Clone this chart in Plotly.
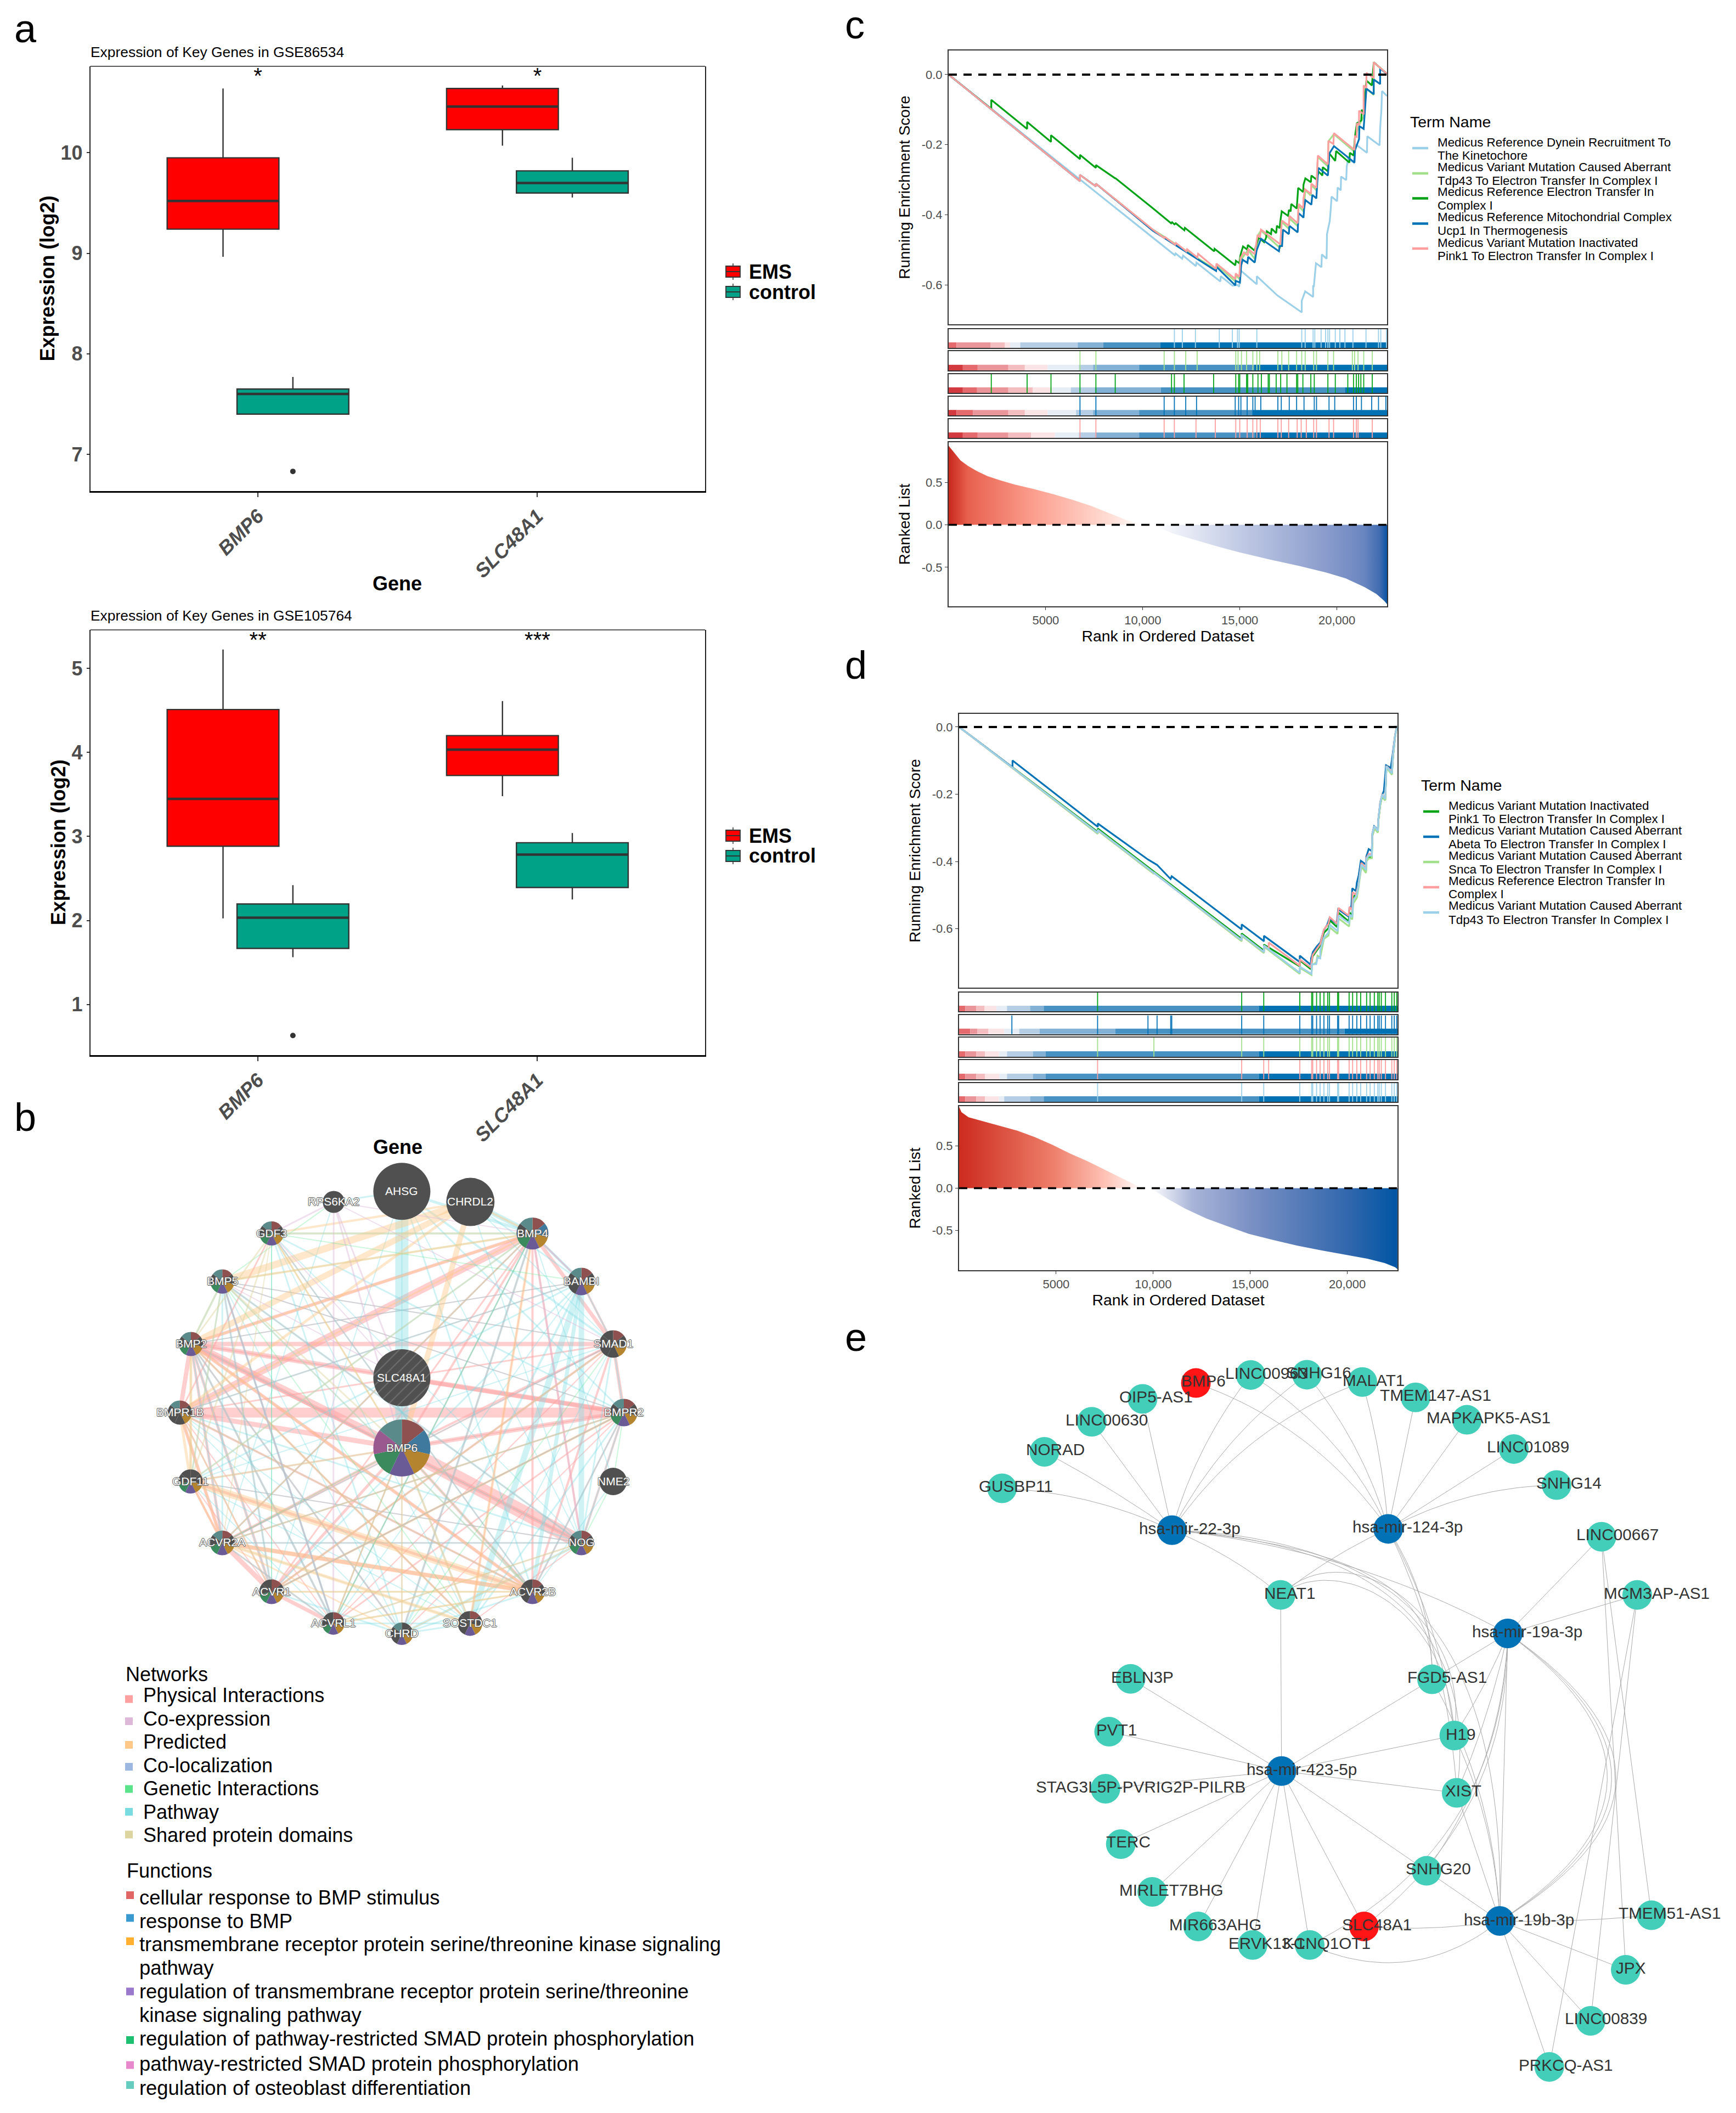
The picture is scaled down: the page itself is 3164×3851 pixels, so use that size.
import plotly.graph_objects as go

W, H = 3164, 3851
FONT = "Liberation Sans"

# ---------------- panel a data ----------------
GENES = ["BMP6", "SLC48A1"]
A1_EMS = dict(low=[8.965, 10.07], q1=[9.24, 10.23], med=[9.52, 10.46], q3=[9.95, 10.64], high=[10.64, 10.67])
A1_CTL = dict(low=[7.40, 9.555], q1=[7.40, 9.60], med=[7.60, 9.70], q3=[7.65, 9.82], high=[7.77, 9.95])
A1_OUTLIER = [6.83]
A1_STARS = ["*", "*"]
A2_EMS = dict(low=[2.025, 3.48], q1=[2.883, 3.725], med=[3.446, 4.033], q3=[4.51, 4.20], high=[5.225, 4.61])
A2_CTL = dict(low=[1.5625, 2.25], q1=[1.667, 2.392], med=[2.033, 2.783], q3=[2.196, 2.925], high=[2.42, 3.04])
A2_OUTLIER = [0.63]
A2_STARS = ["**", "***"]

# ---------------- panel c data ----------------
C_NAMES = [["Medicus Reference Dynein Recruitment To", "The Kinetochore"],
           ["Medicus Variant Mutation Caused Aberrant", "Tdp43 To Electron Transfer In Complex I"],
           ["Medicus Reference Electron Transfer In", "Complex I"],
           ["Medicus Reference Mitochondrial Complex", "Ucp1 In Thermogenesis"],
           ["Medicus Variant Mutation Inactivated", "Pink1 To Electron Transfer In Complex I"]]
LBLUE, LGREEN, GREEN, BLUE, PINK = "#9BD0E8", "#A3E08B", "#00A316", "#0072B5", "#FF9E9E"

C_LB_X = [1, 11628, 11651, 11689, 12029, 12076, 12737, 12765, 13993, 14021, 14626, 14879, 14967, 15051, 15875, 15875, 16939, 18189, 18189, 18365, 18775, 18775, 18809, 18922, 19205, 19224, 19470, 19489, 19631, 19678, 19725, 20008, 20037, 20197, 20216, 20480, 20508, 20575, 20877, 20934, 21047, 21547, 21566, 22199, 22228, 22293, 22322, 22583]
C_LB_Y = [0, -0.514, -0.515, -0.510, -0.525, -0.516, -0.546, -0.536, -0.590, -0.575, -0.602, -0.60, -0.605, -0.559, -0.598, -0.575, -0.630, -0.678, -0.645, -0.618, -0.634, -0.601, -0.606, -0.538, -0.549, -0.513, -0.525, -0.455, -0.418, -0.387, -0.348, -0.361, -0.322, -0.330, -0.291, -0.301, -0.262, -0.241, -0.251, -0.199, -0.202, -0.223, -0.176, -0.202, -0.152, -0.100, -0.047, -0.061]

C_LG_X = [1, 6766, 6766, 7586, 7586, 10518, 13776, 13795, 14767, 14786, 14975, 15032, 15428, 15759, 15919, 16089, 17081, 17157, 17525, 17553, 17978, 18025, 18280, 18375, 18658, 18686, 18941, 19017, 19536, 19564, 19848, 20905, 20934, 21141, 21377, 21519, 21897, 21897, 22583]
C_LG_Y = [0, -0.304, -0.286, -0.319, -0.311, -0.442, -0.557, -0.542, -0.590, -0.572, -0.583, -0.530, -0.500, -0.525, -0.460, -0.445, -0.495, -0.420, -0.440, -0.410, -0.432, -0.375, -0.390, -0.330, -0.345, -0.315, -0.330, -0.235, -0.262, -0.190, -0.170, -0.220, -0.180, -0.145, -0.120, -0.040, -0.058, 0.035, 0.002]

C_GR_X = [1, 2197, 2197, 4042, 4042, 5272, 5272, 6766, 6766, 7586, 7586, 8582, 8582, 10518, 11462, 11510, 11632, 11698, 12142, 12171, 13681, 13700, 14767, 14796, 14975, 15032, 15098, 15164, 15381, 15410, 15759, 15976, 16250, 16354, 16391, 16609, 16637, 16873, 16911, 17052, 17081, 17157, 17487, 17525, 17619, 17647, 17931, 17978, 18006, 18261, 18280, 18375, 18658, 18686, 18941, 19064, 19253, 19272, 19536, 19612, 19914, 19961, 20641, 20669, 20858, 20934, 21028, 21255, 21283, 21377, 21472, 21519, 21803, 21897, 22583]
C_GR_Y = [0, -0.098, -0.072, -0.155, -0.135, -0.192, -0.173, -0.241, -0.229, -0.266, -0.258, -0.296, -0.295, -0.381, -0.424, -0.421, -0.427, -0.424, -0.444, -0.437, -0.504, -0.497, -0.544, -0.531, -0.538, -0.515, -0.504, -0.490, -0.499, -0.486, -0.502, -0.465, -0.478, -0.465, -0.447, -0.455, -0.439, -0.452, -0.431, -0.438, -0.421, -0.390, -0.403, -0.386, -0.390, -0.369, -0.382, -0.343, -0.323, -0.335, -0.314, -0.296, -0.307, -0.288, -0.299, -0.277, -0.288, -0.264, -0.276, -0.225, -0.246, -0.218, -0.251, -0.223, -0.231, -0.176, -0.139, -0.131, -0.100, -0.113, -0.048, -0.017, -0.031, 0.035, 0.002]

C_BL_X = [1, 6766, 6766, 7586, 7586, 10518, 13776, 13795, 14767, 14786, 15004, 15070, 15145, 15391, 15428, 15768, 15862, 15976, 16089, 17015, 17052, 17176, 17223, 17525, 17553, 17978, 18025, 18280, 18309, 18375, 18686, 18733, 18941, 18988, 19045, 19536, 19612, 19848, 20905, 20934, 21141, 21159, 21377, 21472, 21519, 21897, 21897, 22228, 22228, 22583]
C_BL_Y = [0, -0.304, -0.286, -0.319, -0.311, -0.445, -0.560, -0.548, -0.601, -0.588, -0.593, -0.544, -0.528, -0.537, -0.520, -0.536, -0.502, -0.486, -0.468, -0.504, -0.489, -0.489, -0.442, -0.455, -0.431, -0.450, -0.395, -0.408, -0.384, -0.358, -0.371, -0.343, -0.353, -0.309, -0.266, -0.288, -0.225, -0.204, -0.251, -0.215, -0.184, -0.147, -0.155, -0.079, -0.040, -0.056, -0.014, -0.027, 0.017, 0.002]

C_PK_X = [1, 6766, 6766, 7586, 7586, 10518, 11103, 11141, 11670, 11708, 12246, 12284, 12813, 12850, 13776, 13795, 14767, 14786, 14975, 15032, 15211, 15418, 15428, 15759, 15919, 16033, 16089, 17081, 17157, 17525, 17553, 17978, 18025, 18261, 18280, 18356, 18658, 18686, 18941, 19017, 19536, 19564, 19819, 19848, 20905, 20934, 21019, 21028, 21141, 21141, 21377, 21377, 21519, 21519, 21897, 21897, 22583]
C_PK_Y = [0, -0.304, -0.286, -0.319, -0.311, -0.442, -0.466, -0.463, -0.485, -0.480, -0.504, -0.498, -0.522, -0.511, -0.554, -0.539, -0.583, -0.567, -0.577, -0.523, -0.507, -0.516, -0.497, -0.512, -0.457, -0.465, -0.442, -0.484, -0.416, -0.431, -0.403, -0.424, -0.369, -0.381, -0.353, -0.327, -0.340, -0.311, -0.323, -0.231, -0.256, -0.189, -0.198, -0.167, -0.215, -0.176, -0.178, -0.139, -0.144, -0.103, -0.113, -0.031, -0.038, 0.005, -0.010, 0.035, 0.002]

C_HITS = [
    [11628, 12038, 12712, 13942, 14616, 14879, 14967, 15875, 18189, 18365, 18775, 18863, 19185, 19419, 19536, 19624, 19917, 20152, 20415, 20825, 21499, 22143, 22260, 22553],
    [6766, 7586, 11101, 11628, 12214, 12800, 14791, 14908, 15084, 15348, 15670, 15875, 16021, 16959, 17164, 17515, 17925, 18189, 18365, 18804, 18950, 19536, 19829, 20796, 20913, 21089, 21382, 21821],
    [2197, 4042, 5272, 6766, 7586, 8582, 11482, 11628, 12126, 13649, 14791, 14938, 14996, 15348, 15407, 15670, 15934, 16110, 16461, 16520, 16871, 17105, 17427, 17925, 17984, 18248, 18658, 18834, 19536, 19917, 20562, 20855, 21001, 21118, 21235, 21382, 21821],
    [6766, 7586, 11101, 11628, 12214, 12770, 14762, 14938, 15055, 15377, 15670, 15787, 16080, 16959, 17135, 17545, 17925, 18306, 18834, 18950, 19595, 19888, 20855, 21001, 21265, 21792, 22143, 22524],
    [6766, 7586, 11101, 11628, 12741, 13737, 14791, 14996, 15377, 15670, 15875, 16051, 16959, 17135, 17515, 17955, 18160, 18424, 18804, 18950, 19595, 19829, 20855, 21001, 21089, 21821],
]
BAND10 = ["#d23a3f", "#e46a6d", "#ea9599", "#f4bdc0", "#fae4e5", "#e6edf4", "#b5cee6", "#82b1d5", "#4891c3", "#0071b2"]
C_BANDS = [
    [1, 410, 2167, 2900, 3163, 3690, 6649, 7967, 10896, 22583],
    [1, 732, 1494, 3075, 3925, 5096, 6707, 7440, 9812, 15729, 22583],
    [1, 732, 1465, 3075, 4335, 5331, 6297, 7527, 10925, 20415, 22583],
    [1, 410, 1259, 3075, 3925, 5096, 6561, 7440, 9812, 15670, 22583],
    [1, 732, 1494, 3075, 4247, 5477, 6707, 7557, 9812, 15788, 22583],
]
C_RANK_POS_X = [1, 317, 615, 1011, 1507, 2003, 2598, 3391, 4382, 5374, 6365, 7357, 8348, 9142, 9935]
C_RANK_POS_Y = [0.931, 0.839, 0.759, 0.693, 0.627, 0.574, 0.529, 0.476, 0.423, 0.362, 0.296, 0.222, 0.132, 0.058, 0]
C_RANK_NEG_X = [10530, 11521, 12513, 14000, 14992, 16479, 18065, 19453, 20445, 21437, 22032, 22428, 22583]
C_RANK_NEG_Y = [0, -0.10, -0.167, -0.265, -0.325, -0.405, -0.484, -0.563, -0.63, -0.735, -0.815, -0.894, -0.934]

# ---------------- panel d data ----------------
D_NAMES = [["Medicus Variant Mutation Inactivated", "Pink1 To Electron Transfer In Complex I"],
           ["Medicus Variant Mutation Caused Aberrant", "Abeta To Electron Transfer In Complex I"],
           ["Medicus Variant Mutation Caused Aberrant", "Snca To Electron Transfer In Complex I"],
           ["Medicus Reference Electron Transfer In", "Complex I"],
           ["Medicus Variant Mutation Caused Aberrant", "Tdp43 To Electron Transfer In Complex I"]]
D_COLORS = [GREEN, BLUE, LGREEN, PINK, LBLUE]

D_BL_X = [1, 2753, 2753, 7147, 7147, 9731, 10199, 10896, 10954, 12768, 14557, 14557, 15706, 15706, 17551, 17551, 18116, 18135, 18229, 18418, 18606, 18794, 18964, 19077, 19453, 19529, 20066, 20112, 20207, 20254, 20442, 20489, 20583, 20696, 20960, 20979, 21101, 21261, 21290, 21384, 21572, 21600, 21694, 21789, 21883, 21996, 22231, 22297, 22354, 22420, 22467, 22560]
D_BL_Y = [0, -0.120, -0.0996, -0.297, -0.287, -0.394, -0.410, -0.452, -0.444, -0.523, -0.602, -0.587, -0.637, -0.621, -0.699, -0.680, -0.707, -0.688, -0.669, -0.653, -0.641, -0.604, -0.588, -0.569, -0.585, -0.542, -0.564, -0.537, -0.534, -0.480, -0.488, -0.463, -0.442, -0.398, -0.409, -0.385, -0.363, -0.369, -0.317, -0.295, -0.304, -0.274, -0.225, -0.203, -0.190, -0.114, -0.122, -0.098, -0.073, -0.049, -0.022, 0.003]

D_LB_X = [1, 7147, 7147, 12768, 14557, 14557, 15706, 15706, 17551, 17551, 18154, 18182, 18399, 18465, 18606, 18606, 18794, 19030, 19096, 19500, 19547, 20094, 20131, 20254, 20301, 20489, 20564, 20724, 20960, 20979, 21101, 21261, 21290, 21402, 21572, 21600, 21694, 21789, 21949, 22015, 22297, 22354, 22467, 22560]
D_LB_Y = [0, -0.315, -0.306, -0.554, -0.634, -0.618, -0.669, -0.650, -0.731, -0.713, -0.734, -0.705, -0.705, -0.686, -0.688, -0.664, -0.626, -0.612, -0.588, -0.607, -0.561, -0.583, -0.558, -0.565, -0.515, -0.499, -0.474, -0.409, -0.425, -0.393, -0.382, -0.382, -0.317, -0.295, -0.309, -0.274, -0.228, -0.201, -0.214, -0.117, -0.138, -0.084, -0.024, 0.003]

D_LG_X = [1, 7147, 7147, 10037, 10037, 12768, 14557, 14557, 15706, 15706, 17551, 17551, 18154, 18182, 18399, 18465, 18606, 18794, 19030, 19096, 19500, 19547, 20094, 20131, 20254, 20301, 20489, 20564, 20724, 20960, 20979, 21101, 21261, 21290, 21402, 21572, 21600, 21694, 21789, 21949, 22015, 22297, 22354, 22467, 22560]
D_LG_Y = [0, -0.318, -0.308, -0.437, -0.432, -0.557, -0.637, -0.621, -0.672, -0.653, -0.734, -0.716, -0.737, -0.708, -0.700, -0.680, -0.685, -0.630, -0.620, -0.596, -0.615, -0.569, -0.593, -0.566, -0.572, -0.525, -0.508, -0.482, -0.415, -0.434, -0.400, -0.391, -0.390, -0.325, -0.302, -0.314, -0.279, -0.232, -0.205, -0.218, -0.120, -0.142, -0.087, -0.026, 0.003]

D_PK_X = [1, 7147, 7147, 12768, 14557, 14557, 15706, 15706, 15950, 15950, 17551, 17551, 18116, 18211, 18418, 18606, 18794, 19030, 19096, 19473, 19547, 20066, 20112, 20254, 20273, 20442, 20564, 20724, 20960, 20979, 21101, 21261, 21290, 21402, 21572, 21600, 21694, 21789, 21949, 22015, 22297, 22354, 22467, 22560]
D_PK_Y = [0, -0.315, -0.306, -0.554, -0.634, -0.618, -0.669, -0.650, -0.660, -0.641, -0.710, -0.691, -0.715, -0.678, -0.660, -0.645, -0.602, -0.585, -0.566, -0.585, -0.538, -0.561, -0.535, -0.545, -0.491, -0.499, -0.472, -0.404, -0.420, -0.390, -0.378, -0.378, -0.317, -0.295, -0.307, -0.274, -0.226, -0.200, -0.212, -0.116, -0.134, -0.082, -0.023, 0.003]

D_GR_X = [1, 7147, 7147, 12768, 14557, 14557, 15706, 15706, 17551, 17551, 18116, 18211, 18418, 18606, 18794, 19030, 19096, 19473, 19547, 20066, 20112, 20254, 20301, 20489, 20583, 20724, 20960, 20979, 21101, 21261, 21290, 21402, 21572, 21600, 21694, 21789, 21949, 22015, 22297, 22354, 22467, 22560]
D_GR_Y = [0, -0.312, -0.302, -0.550, -0.630, -0.614, -0.665, -0.647, -0.712, -0.694, -0.720, -0.682, -0.665, -0.650, -0.612, -0.598, -0.575, -0.595, -0.552, -0.578, -0.552, -0.558, -0.508, -0.492, -0.465, -0.412, -0.430, -0.396, -0.388, -0.388, -0.323, -0.300, -0.313, -0.278, -0.232, -0.206, -0.218, -0.119, -0.140, -0.087, -0.025, 0.003]

D_COMMON = [7136, 14560, 15695, 17551, 18164, 18218, 18416, 18597, 18795, 18993, 19083, 19498, 19552, 20092, 20273, 20489, 20687, 20993, 21174, 21390, 21570, 21642, 21750, 21966, 22291, 22417, 22543]
D_EXTRA = [[], [2721, 9731, 10199, 10902, 10956], [10037], [15948], []]
D_BANDS = [
    [1, 324, 883, 1315, 1928, 2469, 3658, 4361, 15443, 22583],
    [1, 577, 937, 1514, 2325, 3099, 4145, 8055, 19858, 22583],
    [1, 324, 883, 1333, 2054, 2469, 3802, 4451, 15443, 22583],
    [1, 324, 883, 1333, 2072, 2469, 3802, 4451, 15443, 22583],
    [1, 324, 883, 1333, 2054, 2325, 3658, 4361, 15443, 22583],
]
D_RANK_POS_X = [1, 126, 487, 1207, 2108, 3009, 3910, 4811, 5712, 6613, 7514, 8415, 9316, 9496]
D_RANK_POS_Y = [0.964, 0.90, 0.841, 0.797, 0.738, 0.681, 0.604, 0.514, 0.411, 0.321, 0.219, 0.116, 0.013, 0]
D_RANK_NEG_X = [9857, 10758, 11659, 12740, 13821, 14902, 16164, 17425, 18687, 19948, 21029, 21930, 22471, 22579]
D_RANK_NEG_Y = [0, -0.129, -0.244, -0.36, -0.45, -0.54, -0.612, -0.681, -0.738, -0.789, -0.835, -0.887, -0.938, -0.959]

RANK_TICKS = [5000, 10000, 15000, 20000]
RANK_TEXT = ["5000", "10,000", "15,000", "20,000"]

# ---------------- panel b data ----------------
B_NODES = {
    "AHSG": (732.4, 2171.3, 52), "CHRDL2": (857.3, 2190.6, 44), "RPS6KA2": (608.2, 2190.6, 20),
    "BMP4": (970.5, 2248, 29), "GDF3": (495, 2248, 22), "BAMBI": (1059.6, 2335.6, 25),
    "BMP5": (405.2, 2335.6, 22), "SMAD1": (1117.5, 2449.4, 25), "BMP2": (348, 2449.4, 22),
    "BMPR2": (1137, 2574.4, 25), "BMPR1B": (327.8, 2574.4, 22), "NME2": (1117.5, 2700, 25),
    "GDF11": (347.3, 2700, 22), "NOG": (1059.6, 2811.9, 22.5), "ACVR2A": (405.2, 2811.9, 22.5),
    "ACVR2B": (970.5, 2901, 22.5), "ACVR1": (495, 2901, 22.5), "SOSTDC1": (856.7, 2958.8, 22.5),
    "ACVRL1": (607.5, 2958.8, 20.5), "CHRD": (732.4, 2977.5, 20.5), "SLC48A1": (732.4, 2511, 52),
    "BMP6": (732.4, 2639, 52),
}
SLOTS = ["#8F5050", "#3F7A9E", "#B5842E", "#6A5A96", "#3A8A5E", "#9A5A90", "#5A8A8A"]
GRAY = "#505050"
B_MEMBERS = {
    "BMP6": [1, 1, 1, 1, 1, 1, 1], "BMP4": [1, 1, 1, 1, 1, 0, 1], "BAMBI": [1, 0, 1, 1, 0, 0, 1],
    "GDF3": [1, 0, 1, 1, 1, 0, 1], "BMP5": [1, 0, 1, 1, 1, 0, 1], "SMAD1": [1, 0, 1, 0, 0, 0, 0],
    "BMP2": [1, 0, 1, 1, 1, 0, 1], "BMPR2": [1, 0, 1, 1, 1, 0, 1], "BMPR1B": [1, 0, 1, 0, 0, 0, 1],
    "GDF11": [0, 0, 1, 1, 1, 0, 0], "NOG": [1, 0, 1, 1, 1, 0, 1], "ACVR2A": [1, 0, 1, 1, 1, 0, 1],
    "ACVR2B": [1, 0, 1, 1, 0, 0, 0], "ACVR1": [1, 0, 1, 1, 1, 0, 0], "SOSTDC1": [1, 0, 1, 1, 0, 0, 0],
    "ACVRL1": [1, 0, 1, 1, 1, 0, 0], "CHRD": [0, 0, 1, 1, 0, 0, 1],
}
PHYS = "rgba(255,160,160,0.50)"
PATH = "rgba(122,220,228,0.36)"
PRED = "rgba(255,200,136,0.44)"
COEX = "rgba(221,184,216,0.45)"
GENI = "rgba(91,227,140,0.30)"
SHAR = "rgba(221,213,160,0.45)"
COLO = "rgba(157,184,224,0.40)"
B_EDGES = {
    PHYS: [("BMP6 NOG", 26), ("BMPR1B BMPR2", 18), ("BMP2 BMP6", 14), ("BMP4 BMPR1B", 13), ("BMP2 BMPR2", 9),
           ("BMP2 SMAD1", 8), ("BMP2 BMPR1B", 8), ("BMP2 NOG", 7), ("SLC48A1 BMPR2", 7), ("BMPR1B BMP6", 9),
           ("BMP6 BMPR2", 8), ("ACVR2A ACVR2B", 7), ("ACVR2A ACVR1", 9), ("ACVR1 ACVRL1", 7), ("BMP4 SMAD1", 7),
           ("BMP4 BMP2", 6), ("BMP6 ACVR1", 5), ("BMP6 ACVR2A", 5), ("BMP6 ACVR2B", 5), ("BMP6 SMAD1", 4),
           ("BMP2 ACVR2B", 6), ("BMP2 ACVR1", 5), ("BMP2 ACVR2A", 5), ("BMPR1B ACVR2A", 6), ("BMPR1B ACVR2B", 4),
           ("SMAD1 BMPR2", 6), ("SMAD1 ACVR1", 4), ("SMAD1 ACVR2A", 3), ("SMAD1 ACVR2B", 4), ("BMP4 NOG", 4),
           ("BMP4 ACVR2B", 4), ("BMP4 ACVR1", 3), ("BMP4 BMP6", 4), ("BMPR2 ACVR1", 3), ("BMPR2 ACVRL1", 3),
           ("BMPR2 NOG", 4), ("BAMBI SMAD1", 4), ("BAMBI BMP4", 3), ("BMP2 SLC48A1", 3), ("CHRD BMP4", 3),
           ("CHRD BMP2", 3), ("SOSTDC1 BMP2", 3), ("GDF11 ACVR2B", 5), ("GDF11 ACVR2A", 4), ("GDF3 BMPR1B", 3),
           ("BMP2 ACVRL1", 3), ("BMPR1B ACVR1", 3), ("BMPR1B ACVRL1", 2), ("BMP4 ACVR2A", 3), ("BMP4 ACVRL1", 2),
           ("BMP6 ACVRL1", 2), ("BMPR2 ACVR2A", 3), ("BMPR2 ACVR2B", 3), ("SMAD1 ACVRL1", 2), ("SMAD1 BMPR1B", 3),
           ("SMAD1 BMP5", 2), ("BAMBI BMP2", 2), ("BAMBI BMPR1B", 2), ("NOG ACVR2A", 2), ("NOG BMP5", 2),
           ("NOG GDF11", 2), ("CHRD BMPR2", 2), ("SOSTDC1 BMP4", 2), ("SOSTDC1 NOG", 2), ("GDF3 ACVR2B", 2),
           ("BMP5 ACVR1", 2), ("BMP5 BMPR2", 2), ("GDF11 BMPR2", 2), ("GDF11 ACVR1", 2)],
    PATH: [("AHSG BMP6", 24), ("BAMBI NOG", 10), ("SOSTDC1 BAMBI", 11), ("CHRDL2 BMP4", 9), ("ACVR2B BAMBI", 7),
           ("AHSG BMP4", 5), ("AHSG SMAD1", 4), ("AHSG BMPR2", 3), ("CHRD NOG", 5), ("CHRD BAMBI", 4),
           ("CHRD BMP4", 4), ("CHRD ACVR1", 3), ("ACVRL1 BMP5", 4), ("ACVRL1 BMP2", 4), ("ACVRL1 BMP4", 3),
           ("ACVR1 BMP5", 4), ("ACVR1 BAMBI", 3), ("ACVR1 BMP2", 3), ("ACVR2A BMP5", 3), ("ACVR2A BMP4", 3),
           ("BMP5 BMP2", 3), ("BMP5 NOG", 4), ("BMP5 ACVR2B", 3), ("BMP5 GDF11", 3), ("GDF3 ACVR2B", 3),
           ("GDF3 CHRD", 3), ("GDF3 BMP4", 3), ("GDF3 BMPR2", 3), ("BMP2 ACVR2A", 3), ("BMP2 CHRD", 3),
           ("GDF11 BMP4", 3), ("GDF11 BAMBI", 3), ("GDF11 SMAD1", 2), ("BMPR1B BAMBI", 3), ("BMPR1B NOG", 3),
           ("SMAD1 NOG", 3), ("SMAD1 BMPR2", 3), ("BMPR2 SOSTDC1", 3), ("BMPR2 ACVR2B", 3), ("BMPR2 NOG", 3),
           ("SOSTDC1 CHRD", 3), ("ACVR2B CHRD", 3), ("AHSG ACVR2B", 3), ("AHSG RPS6KA2", 3), ("BMP4 BAMBI", 5),
           ("BAMBI SMAD1", 3), ("ACVRL1 SOSTDC1", 3), ("ACVR2A NOG", 3), ("ACVRL1 BMP6", 3), ("SOSTDC1 BMP6", 3),
           ("AHSG NOG", 2), ("AHSG ACVR1", 2), ("AHSG CHRD", 2), ("CHRDL2 NOG", 2), ("CHRDL2 BAMBI", 3),
           ("CHRDL2 SMAD1", 2), ("RPS6KA2 ACVR2A", 2), ("GDF3 NOG", 2), ("GDF3 ACVR1", 2), ("GDF3 SOSTDC1", 2),
           ("BMP5 CHRD", 2), ("BMP5 BMPR2", 2), ("BMP5 SMAD1", 2), ("BMP2 SOSTDC1", 2), ("BMP2 BAMBI", 2),
           ("BMPR1B ACVR2B", 2), ("BMPR1B SOSTDC1", 2), ("BMPR1B CHRD", 2), ("GDF11 NOG", 2), ("GDF11 SOSTDC1", 2),
           ("GDF11 ACVRL1", 2), ("ACVR2A SMAD1", 2), ("ACVR2A BMPR2", 2), ("ACVR1 SMAD1", 2), ("ACVRL1 NOG", 2),
           ("ACVRL1 BAMBI", 2), ("SMAD1 SOSTDC1", 2), ("NME2 BMP4", 2), ("NME2 ACVR2B", 2)],
    PRED: [("CHRDL2 BMP5", 13), ("CHRDL2 BMP2", 11), ("CHRDL2 BMP6", 10), ("GDF11 ACVR2B", 13), ("ACVR2A ACVR2B", 8),
           ("CHRDL2 GDF3", 4), ("CHRDL2 BMP4", 4), ("CHRDL2 BMPR1B", 5), ("SOSTDC1 BMP4", 5), ("SOSTDC1 BMP2", 4),
           ("SOSTDC1 ACVR2A", 6), ("SOSTDC1 BMP6", 4), ("BMP2 ACVR2B", 4), ("BMP2 BMP4", 4), ("GDF11 BMP2", 5),
           ("GDF11 BMPR1B", 5), ("GDF11 ACVR2A", 4), ("BMPR1B ACVR2A", 4), ("BMP6 CHRD", 3), ("BMP6 ACVRL1", 3),
           ("ACVR1 ACVR2B", 3), ("ACVR1 BMPR2", 4), ("ACVR1 SMAD1", 3), ("ACVRL1 ACVR2B", 3), ("BMP5 BMP4", 3),
           ("BMP5 ACVRL1", 3), ("CHRD ACVR2A", 3), ("NOG ACVRL1", 3), ("GDF3 BMP6", 3),
           ("BMP4 BMPR1B", 3), ("BMP4 ACVR2A", 2), ("CHRD NOG", 2), ("ACVR2B BMPR1B", 2), ("NOG BMP2", 2)],
    COEX: [("RPS6KA2 GDF3", 3), ("RPS6KA2 BMP6", 3), ("RPS6KA2 SLC48A1", 3), ("RPS6KA2 BMP4", 2), ("RPS6KA2 SMAD1", 2),
           ("ACVRL1 RPS6KA2", 3), ("BAMBI BMP4", 3), ("NOG BMP4", 3), ("GDF3 SLC48A1", 2), ("ACVRL1 BMP5", 2), ("BMP5 SLC48A1", 2)],
    GENI: [("RPS6KA2 BMP5", 2), ("BMP6 ACVR2A", 2), ("ACVR2B BMP6", 2), ("ACVR1 GDF3", 2), ("ACVRL1 BMP4", 2),
           ("BMPR2 NME2", 2), ("NME2 NOG", 2), ("CHRD SMAD1", 2), ("BMP5 SOSTDC1", 2), ("GDF3 BAMBI", 2)],
    SHAR: [("GDF3 BMP4", 4), ("BMP5 BMP4", 4), ("GDF3 BMP2", 3), ("BMP5 BMP2", 4), ("GDF11 BMP2", 3), ("BMP5 BMP6", 3),
           ("GDF3 BMP6", 3), ("GDF11 BMP6", 4), ("BMPR1B ACVR1", 3), ("ACVR2A ACVRL1", 3), ("BMPR2 ACVR1", 3),
           ("BMPR2 ACVR2A", 3), ("ACVR1 ACVR2B", 3), ("ACVRL1 ACVR2B", 3), ("GDF3 GDF11", 3), ("BMP5 GDF11", 3), ("BMP4 GDF11", 3),
           ("ACVR2A SOSTDC1", 2), ("BMP5 ACVR2B", 2), ("GDF3 ACVR2A", 2)],
    COLO: [("ACVRL1 ACVR2A", 3), ("ACVRL1 BMP5", 3), ("BMP2 NOG", 2), ("ACVR1 BMPR2", 2)],
}
NET_NAMES = ["Physical Interactions", "Co-expression", "Predicted", "Co-localization", "Genetic Interactions", "Pathway", "Shared protein domains"]
NET_COLORS = ["#FFA0A0", "#DDB8D8", "#FFC888", "#9DB8E0", "#5BE38C", "#7ADCE0", "#DDD5A0"]
FUNC_LINES = ["cellular response to BMP stimulus", "response to BMP", "transmembrane receptor protein serine/threonine kinase signaling", "pathway",
              "regulation of transmembrane receptor protein serine/threonine", "kinase signaling pathway",
              "regulation of pathway-restricted SMAD protein phosphorylation", "pathway-restricted SMAD protein phosphorylation", "regulation of osteoblast differentiation"]
FUNC_COLORS = ["#E06666", "#3A9AD0", "#FFB030", None, "#9A78CC", None, "#1DC070", "#E888CC", "#66CCC0"]

# ---------------- panel e data ----------------
TEAL, MIR, RED = "#43CEBA", "#0072B5", "#FF1515"
# name: node x, node y, label left x, label y, colour
E_NODES = {
    "BMP6": (2179.6, 2520.6, 2153, 2516, RED), "LINC00963": (2279.5, 2505.9, 2233, 2502.6, TEAL),
    "SNHG16": (2382, 2505.4, 2344, 2501.7, TEAL), "MALAT1": (2483, 2518.7, 2446.6, 2515.5, TEAL),
    "TMEM147-AS1": (2580, 2546.7, 2514.7, 2542.6, TEAL), "MAPKAPK5-AS1": (2673.6, 2587.6, 2600, 2583, TEAL),
    "LINC01089": (2759, 2640.9, 2710, 2636, TEAL), "SNHG14": (2837, 2706.5, 2800, 2702, TEAL),
    "OIP5-AS1": (2082.4, 2549.5, 2039.7, 2545, TEAL), "LINC00630": (1989.8, 2591.3, 1941.6, 2587, TEAL),
    "NORAD": (1903.5, 2646, 1870, 2641, TEAL), "GUSBP11": (1826.3, 2712.5, 1783.6, 2708, TEAL),
    "hsa-mir-22-3p": (2136, 2788.7, 2076, 2785.5, MIR), "hsa-mir-124-3p": (2530, 2786.4, 2464.7, 2782.8, MIR),
    "LINC00667": (2918.8, 2800.7, 2872.5, 2796.5, TEAL), "NEAT1": (2334, 2906.8, 2304, 2903, TEAL),
    "MCM3AP-AS1": (2984, 2906.8, 2922.5, 2903, TEAL), "hsa-mir-19a-3p": (2748, 2977, 2682.7, 2973.8, MIR),
    "EBLN3P": (2060.6, 3059.7, 2025, 3056, TEAL), "FGD5-AS1": (2610, 3060.6, 2564.6, 3056.5, TEAL),
    "PVT1": (2021.5, 3156, 1998, 3152.5, TEAL), "H19": (2650.6, 3163, 2634.6, 3160, TEAL),
    "hsa-mir-423-5p": (2335.7, 3227.8, 2271.5, 3224, MIR), "XIST": (2654.9, 3267.5, 2633.7, 3263.8, TEAL),
    "STAG3L5P-PVRIG2P-PILRB": (2014.8, 3260, 1888, 3256.4, TEAL), "TERC": (2042.7, 3361, 2015.6, 3356.6, TEAL),
    "SNHG20": (2600, 3409.6, 2562, 3405.8, TEAL), "MIRLET7BHG": (2100, 3448, 2040, 3444, TEAL),
    "MIR663AHG": (2183.7, 3511, 2130.5, 3507.6, TEAL), "SLC48A1": (2486, 3511, 2446, 3507.6, RED),
    "hsa-mir-19b-3p": (2733.4, 3501, 2668.4, 3498, MIR), "TMEM51-AS1": (3010, 3490.6, 2950.4, 3486.4, TEAL),
    "ERVK13-1": (2283, 3544.7, 2238.6, 3541, TEAL), "KCNQ1OT1": (2387, 3544.7, 2338, 3541, TEAL),
    "JPX": (2963, 3590, 2944.5, 3586.6, TEAL), "LINC00839": (2899, 3683, 2851.6, 3678.8, TEAL),
    "PRKCQ-AS1": (2823.7, 3767, 2768, 3763, TEAL),
}
M22, M124, M19A, M19B, M423 = "hsa-mir-22-3p", "hsa-mir-124-3p", "hsa-mir-19a-3p", "hsa-mir-19b-3p", "hsa-mir-423-5p"
E_EDGES = [
    (M22, "GUSBP11", .10), (M22, "NORAD", .03), (M22, "LINC00630", 0), (M22, "OIP5-AS1", 0),
    (M22, "LINC00963", -.10), (M22, "SNHG16", -.12), (M22, "MALAT1", -.16), (M22, "NEAT1", -.08),
    (M22, M19A, -.10),
    (M124, "BMP6", .16), (M124, "LINC00963", .15), (M124, "SNHG16", .10), (M124, "MALAT1", .05),
    (M124, "TMEM147-AS1", 0), (M124, "MAPKAPK5-AS1", 0), (M124, "LINC01089", 0), (M124, "SNHG14", -.12),
    (M124, "NEAT1", .06), (M124, "FGD5-AS1", -.15), (M124, "H19", -.10), (M124, "XIST", -.10),
    ("FGD5-AS1", M19A, 0), ("FGD5-AS1", M19B, -.12),
    ("H19", M19B, -.10), ("XIST", M19B, 0), ("SNHG20", M19B, 0), (M19B, "TMEM51-AS1", .03),
    (M19B, "JPX", 0), (M19B, "LINC00839", 0), (M19B, "PRKCQ-AS1", 0), ("SLC48A1", M19B, .06),
    ("KCNQ1OT1", M19B, .30), (M19A, "LINC00667", 0), (M19A, "MCM3AP-AS1", 0), (M19A, "H19", -.05),
    (M19A, "XIST", -.05), (M19A, "SNHG20", -.15), (M19A, "SLC48A1", -.25), (M19A, "KCNQ1OT1", -.30),
    (M19A, M19B, -.72), (M19A, M19B, -.75), (M19A, M19B, -.78), (M19A, M19B, 0),
    ("LINC00667", "JPX", 0), ("LINC00667", "TMEM51-AS1", 0), ("MCM3AP-AS1", "LINC00839", 0), ("MCM3AP-AS1", "PRKCQ-AS1", 0),
    (M423, "EBLN3P", 0), (M423, "PVT1", 0), (M423, "STAG3L5P-PVRIG2P-PILRB", 0), (M423, "TERC", 0),
    (M423, "MIRLET7BHG", 0), (M423, "MIR663AHG", 0), (M423, "ERVK13-1", 0), (M423, "KCNQ1OT1", 0),
    (M423, "SLC48A1", 0), (M423, "SNHG20", 0), (M423, "XIST", 0), (M423, "H19", 0),
    (M423, "FGD5-AS1", 0), (M423, "NEAT1", 0),
]
# arcs with two bend points
E_ARCS = [
    ("NEAT1", M19B, (2450, 2790), (2750, 2900)), ("NEAT1", "H19", (2430, 2830), (2640, 2920)),
    (M22, "FGD5-AS1", (2480, 2820), (2620, 2900)), (M22, "XIST", (2480, 2810), (2700, 2950)),
    (M22, "H19", (2480, 2800), (2680, 2950)),
]

# ================= build =================
fig = go.Figure()
layout = dict(width=W, height=H, autosize=False, margin=dict(l=0, r=0, t=0, b=0), plot_bgcolor="rgba(0,0,0,0)",
              paper_bgcolor="white", showlegend=False, barmode="overlay", font=dict(family=FONT, color="#000"))
annos, shapes = [], []
OV = 20
layout[f"xaxis{OV}"] = dict(domain=[0, 1], range=[0, W], visible=False, anchor=f"y{OV}", fixedrange=True)
layout[f"yaxis{OV}"] = dict(domain=[0, 1], range=[H, 0], visible=False, anchor=f"x{OV}", fixedrange=True)


def text(x, y, s, size, anchor="left", color="#000", weight="normal", angle=0, shadow=None):
    f = dict(family=FONT, size=size, color=color, weight=weight)
    if shadow:
        f["shadow"] = shadow
    annos.append(dict(xref="paper", yref="paper", x=x / W, y=1 - y / H, text=s, showarrow=False, xanchor=anchor,
                      yanchor="middle", font=f, textangle=angle, borderpad=0, borderwidth=0))


def axes(i, l, t, r, b, xa=None, ya=None):
    xd = dict(domain=[l / W, r / W], anchor=f"y{i}", showgrid=False, zeroline=False, fixedrange=True)
    yd = dict(domain=[1 - b / H, 1 - t / H], anchor=f"x{i}", showgrid=False, zeroline=False, fixedrange=True)
    xd.update(xa or {})
    yd.update(ya or {})
    layout[f"xaxis{i}"] = xd
    layout[f"yaxis{i}"] = yd


def ov_scatter(**kw):
    fig.add_trace(go.Scatter(xaxis=f"x{OV}", yaxis=f"y{OV}", hoverinfo="skip", **kw))


# ---- box panels ----
TICKC = "#4d4d4d"


def box_panel(i, top, bottom, yr, yticks, ems, ctl, outlier, stars, star_y):
    tf = dict(family=FONT, size=36, color=TICKC, weight="bold")
    xa = dict(range=[0.4, 2.6], tickmode="array", tickvals=[1, 2], ticktext=GENES, tickangle=-45, ticks="outside",
              ticklen=8, tickwidth=1.5, tickcolor="#333", showline=True, linecolor="#000", linewidth=3,
              tickfont=dict(family=FONT, size=36, color=TICKC, weight="bold", style="italic"))
    ya = dict(range=yr, tickmode="array", tickvals=yticks, ticktext=[str(v) for v in yticks], ticks="outside", ticklen=5,
              tickwidth=1.5, tickcolor="#333", tickfont=tf, showline=True, mirror=True, linecolor="#222", linewidth=1.5,
              title=dict(text="Expression (log2)", font=dict(family=FONT, size=36, weight="bold"), standoff=0))
    axes(i, 164.6, top, 1285, bottom, xa, ya)
    shapes.append(dict(type="line", xref=f"x{i} domain", yref=f"y{i} domain", x0=0, x1=1, y0=1, y1=1, line=dict(color="#222", width=1.5)))
    for pos, d, col, name in ((0.875, ems, "#FF0000", "EMS"), (1.125, ctl, "#00A287", "control")):
        xs = [pos, pos + 1]
        fig.add_trace(go.Box(x=xs, q1=d["q1"], median=d["med"], q3=d["q3"], lowerfence=d["low"], upperfence=d["high"],
                             width=0.4, fillcolor=col, line=dict(color="#333", width=2.4), whiskerwidth=0, name=name,
                             boxpoints=False, xaxis=f"x{i}", yaxis=f"y{i}", hoverinfo="skip"))
        mx, my = [], []
        for x0, m in zip(xs, d["med"]):
            mx += [x0 - 0.2, x0 + 0.2, None]
            my += [m, m, None]
        fig.add_trace(go.Scatter(x=mx, y=my, mode="lines", line=dict(color="#333", width=4.5), xaxis=f"x{i}", yaxis=f"y{i}", hoverinfo="skip"))
    fig.add_trace(go.Scatter(x=[1.125], y=outlier, mode="markers", marker=dict(color="#333", size=10), xaxis=f"x{i}", yaxis=f"y{i}", hoverinfo="skip"))
    fig.add_trace(go.Scatter(x=[1, 2], y=[star_y, star_y], mode="text", text=stars, textfont=dict(family=FONT, size=40, color="#000"),
                             textposition="middle center", xaxis=f"x{i}", yaxis=f"y{i}", hoverinfo="skip", cliponaxis=False))


box_panel(31, 120.7, 894.5, [6.637, 10.861], [7, 8, 9, 10], A1_EMS, A1_CTL, A1_OUTLIER, A1_STARS, 10.743)
box_panel(2, 1148, 1922.5, [0.4, 5.458], [1, 2, 3, 4, 5], A2_EMS, A2_CTL, A2_OUTLIER, A2_STARS, 5.315)
text(724, 1063, "Gene", 36, anchor="center", weight="bold")
text(165, 94.7, "Expression of Key Genes in GSE86534", 26.4)
text(165, 1122, "Expression of Key Genes in GSE105764", 26.4)


def box_key(x0, y0, y1, col):
    mid = (y0 + y1) / 2
    shapes.append(dict(type="line", xref=f"x{OV}", yref=f"y{OV}", x0=x0 + 13, x1=x0 + 13, y0=y0 - 5, y1=y1 + 5, line=dict(color="#333", width=1.5)))
    shapes.append(dict(type="rect", xref=f"x{OV}", yref=f"y{OV}", x0=x0, x1=x0 + 26, y0=y0, y1=y1, fillcolor=col, line=dict(color="#333", width=1.8)))
    shapes.append(dict(type="line", xref=f"x{OV}", yref=f"y{OV}", x0=x0, x1=x0 + 26, y0=mid, y1=mid, line=dict(color="#333", width=2)))


for yE, yC in ((495, 532), (1523, 1560)):
    box_key(1323, yE - 10, yE + 10, "#FF0000")
    box_key(1323, yC - 10, yC + 10, "#00A287")
    text(1365, yE, "EMS", 36, weight="bold")
    text(1365, yC, "control", 36, weight="bold")

# ---- GSEA panels ----


def gsea(base, l, r, main, main_range, yt, curves, colors, strips, hits, bands, rank, rank_range, pos_grad, neg_grad, title_std):
    tf = dict(family=FONT, size=22, color=TICKC)
    border = dict(showline=True, mirror=True, linecolor="#333", linewidth=2)
    xa = dict(range=[1, 22583], showticklabels=False, ticks="", **border)
    tl = [f"{v:.1f}" for v in yt]
    ya = dict(range=main_range, tickmode="array", tickvals=yt, ticktext=tl, ticks="outside", ticklen=5, tickcolor="#333", tickfont=tf,
              title=dict(text="Running Enrichment Score", font=dict(family=FONT, size=28, color="#000"), standoff=title_std[0]), **border)
    axes(base, l, main[0], r, main[1], xa, ya)
    for (cx, cy), col in zip(curves, colors):
        fig.add_trace(go.Scatter(x=cx, y=cy, mode="lines", line=dict(color=col, width=3.2), xaxis=f"x{base}", yaxis=f"y{base}", hoverinfo="skip"))
    shapes.append(dict(type="line", xref=f"x{base} domain", yref=f"y{base}", x0=0, x1=1, y0=0, y1=0, line=dict(color="#000", width=4, dash="15px,12px")))
    for k, ((t, b), h, ed, col) in enumerate(zip(strips, hits, bands, colors)):
        i = base + 1 + k
        axes(i, l, t, r, b, dict(range=[1, 22583], showticklabels=False, ticks="", **border),
             dict(range=[0, 1], showticklabels=False, ticks="", **border))
        pal = BAND10 if len(ed) == 11 else BAND10[1:]
        fig.add_trace(go.Bar(x=[(a + c) / 2 for a, c in zip(ed[:-1], ed[1:])], width=[c - a for a, c in zip(ed[:-1], ed[1:])],
                             y=[0.29] * (len(ed) - 1), marker=dict(color=pal, line=dict(width=0)), xaxis=f"x{i}", yaxis=f"y{i}", hoverinfo="skip"))
        hx, hy = [], []
        for v in h:
            hx += [v, v, None]
            hy += [0, 1, None]
        fig.add_trace(go.Scatter(x=hx, y=hy, mode="lines", line=dict(color=col, width=1.8), xaxis=f"x{i}", yaxis=f"y{i}", hoverinfo="skip"))
    i = base + 6
    xa = dict(range=[1, 22583], tickmode="array", tickvals=RANK_TICKS, ticktext=RANK_TEXT, ticks="outside", ticklen=5, tickcolor="#333", tickfont=tf,
              title=dict(text="Rank in Ordered Dataset", font=dict(family=FONT, size=28.4), standoff=6), **border)
    ya = dict(range=rank_range, tickmode="array", tickvals=[-0.5, 0, 0.5], ticktext=["-0.5", "0.0", "0.5"], ticks="outside", ticklen=5, tickcolor="#333", tickfont=tf,
              title=dict(text="Ranked List", font=dict(family=FONT, size=28, color="#000"), standoff=title_std[1]), **border)
    axes(i, l, strips[-1][1] + 8, r, strips[-1][1] + 307, xa, ya)
    (px_, py_, nx_, ny_) = rank
    fig.add_trace(go.Scatter(x=px_, y=py_, mode="lines", line=dict(width=0), fill="tozeroy",
                             fillgradient=dict(type="horizontal", colorscale=pos_grad, start=1, stop=px_[-1]), xaxis=f"x{i}", yaxis=f"y{i}", hoverinfo="skip"))
    fig.add_trace(go.Scatter(x=nx_, y=ny_, mode="lines", line=dict(width=0), fill="tozeroy",
                             fillgradient=dict(type="horizontal", colorscale=neg_grad, start=nx_[0], stop=22583), xaxis=f"x{i}", yaxis=f"y{i}", hoverinfo="skip"))
    shapes.append(dict(type="line", xref=f"x{i} domain", yref=f"y{i}", x0=0, x1=1, y0=0, y1=0, line=dict(color="#000", width=3.5, dash="15px,12px")))


C_COLORS = [LBLUE, LGREEN, GREEN, BLUE, PINK]
gsea(3, 1729, 2528, (92, 591), [-0.712, 0.0687], [0, -0.2, -0.4, -0.6],
     [(C_LB_X, C_LB_Y), (C_LG_X, C_LG_Y), (C_GR_X, C_GR_Y), (C_BL_X, C_BL_Y), (C_PK_X, C_PK_Y)], C_COLORS,
     [(599.6, 634), (640, 675), (681.6, 716), (723, 757), (764, 798)], C_HITS, C_BANDS,
     (C_RANK_POS_X, C_RANK_POS_Y, C_RANK_NEG_X, C_RANK_NEG_Y), [-0.96, 0.9735],
     [[0, "#c8281e"], [0.1, "#e8604e"], [0.45, "#fca090"], [0.85, "#ffe0d8"], [1, "#ffffff"]],
     [[0, "#ffffff"], [0.33, "#c8d0e8"], [0.74, "#8a9ccc"], [0.9, "#6a86c0"], [0.97, "#3f6cb0"], [1, "#0a55a5"]], (13, 13))

D_CURVES = [(D_GR_X, D_GR_Y), (D_BL_X, D_BL_Y), (D_LG_X, D_LG_Y), (D_PK_X, D_PK_Y), (D_LB_X, D_LB_Y)]
D_HITS = [sorted(D_COMMON + e) for e in D_EXTRA]
gsea(10, 1748, 2547, (1301, 1800), [-0.775, 0.039], [0, -0.2, -0.4, -0.6], D_CURVES, D_COLORS,
     [(1808.5, 1843), (1850.4, 1884.8), (1890.7, 1926.3), (1932, 1967), (1973.7, 2008)], D_HITS, D_BANDS,
     (D_RANK_POS_X, D_RANK_POS_Y, D_RANK_NEG_X, D_RANK_NEG_Y), [-0.972, 0.972],
     [[0, "#cc2a1e"], [0.5, "#ed7d68"], [0.8, "#ffc4b8"], [1, "#ffffff"]],
     [[0, "#ffffff"], [0.17, "#a8b4d8"], [0.41, "#7a90c4"], [0.81, "#2f66ac"], [1, "#0055a4"]], (13, 13))


def term_legend(tx, ty, kx, items, colors, key_y, line_y, lx):
    text(tx, ty, "Term Name", 28.5)
    for names, col, ky, (y1, y2) in zip(items, colors, key_y, line_y):
        ov_scatter(x=[kx, kx + 29], y=[ky, ky], mode="lines", line=dict(color=col, width=4.5))
        text(lx, y1, names[0], 22.4)
        text(lx, y2, names[1], 22.4)


term_legend(2569.6, 222, 2574, C_NAMES, C_COLORS, [270, 316, 361.5, 407.5, 453],
            [(259, 283), (304, 329), (350, 374.5), (396, 420.5), (442, 466)], 2620)
term_legend(2590, 1431, 2594, D_NAMES, D_COLORS, [1479, 1525, 1571, 1617, 1663],
            [(1468.5, 1492), (1513.5, 1538), (1559.4, 1584.6), (1605.8, 1629.6), (1650.7, 1676)], 2640)

# ---- network b ----
groups = {}
for col, lst in B_EDGES.items():
    for pair, w in lst:
        a, b = pair.split()
        groups.setdefault((col, w), []).append((a, b))
for (col, w), pairs in groups.items():
    ex, ey = [], []
    for a, b in pairs:
        ex += [B_NODES[a][0], B_NODES[b][0], None]
        ey += [B_NODES[a][1], B_NODES[b][1], None]
    ov_scatter(x=ex, y=ey, mode="lines", line=dict(color=col, width=w))

HALO = "1px 0 0 #555, -1px 0 0 #555, 0 1px 0 #555, 0 -1px 0 #555"
for name, (cx, cy, r) in B_NODES.items():
    mem = B_MEMBERS.get(name)
    cols = [s if m else GRAY for s, m in zip(SLOTS, mem)] if mem else [GRAY]
    mk = dict(colors=cols, line=dict(width=0))
    if name == "SLC48A1":
        mk["pattern"] = dict(shape="/", fgcolor="#6e6e6e", bgcolor=GRAY, size=14, solidity=0.15)
    fig.add_trace(go.Pie(values=[1] * len(cols), sort=False, direction="clockwise", rotation=0, textinfo="none", hoverinfo="skip",
                         domain=dict(x=[(cx - r) / W, (cx + r) / W], y=[1 - (cy + r) / H, 1 - (cy - r) / H]), marker=mk, showlegend=False))
    text(cx, cy - 1, name, 21, anchor="center", color="white", shadow=HALO)
text(724.6, 2090, "Gene", 36, anchor="center", weight="bold")

# ---- b legend ----
text(229, 3051.6, "Networks", 36)
NET_Y = [3089.5, 3132, 3174, 3217, 3259.4, 3302, 3344.6]
NET_KEY_Y = [3096.6, 3137, 3180, 3220, 3260.5, 3302, 3343.5]
ov_scatter(x=[235] * 7, y=NET_KEY_Y, mode="markers", marker=dict(symbol="square", size=14, color=NET_COLORS, line=dict(width=0)))
for n, y in zip(NET_NAMES, NET_Y):
    text(261, y, n, 36)
text(230.6, 3409.7, "Functions", 36)
FUNC_Y = [3458.6, 3501, 3543.8, 3586.7, 3629.5, 3672, 3715, 3761, 3805]
FUNC_KEY_Y = [3454, 3495.5, 3538, None, 3629.5, None, 3718, 3763.6, 3800]
for n, y, c, ky in zip(FUNC_LINES, FUNC_Y, FUNC_COLORS, FUNC_KEY_Y):
    text(253.6, y, n, 36.4)
    if c:
        ov_scatter(x=[237], y=[ky], mode="markers", marker=dict(symbol="square", size=14, color=c, line=dict(width=0)))

# ---- network e ----
EDGE_LINE = dict(color="#aaaaaa", width=1)
for a, b, c in E_EDGES:
    x0, y0 = E_NODES[a][:2]
    x1, y1 = E_NODES[b][:2]
    if c == 0:
        ex, ey = [x0, x1], [y0, y1]
    else:
        dx, dy = x1 - x0, y1 - y0
        qx, qy = (x0 + x1) / 2 - c * dy, (y0 + y1) / 2 + c * dx
        ts = [t / 30 for t in range(31)]
        ex = [(1 - t) ** 2 * x0 + 2 * t * (1 - t) * qx + t ** 2 * x1 for t in ts]
        ey = [(1 - t) ** 2 * y0 + 2 * t * (1 - t) * qy + t ** 2 * y1 for t in ts]
    ov_scatter(x=ex, y=ey, mode="lines", line=EDGE_LINE)
for a, b, c1, c2 in E_ARCS:
    x0, y0 = E_NODES[a][:2]
    x1, y1 = E_NODES[b][:2]
    ts = [t / 40 for t in range(41)]
    ex = [(1 - t) ** 3 * x0 + 3 * t * (1 - t) ** 2 * c1[0] + 3 * t * t * (1 - t) * c2[0] + t ** 3 * x1 for t in ts]
    ey = [(1 - t) ** 3 * y0 + 3 * t * (1 - t) ** 2 * c1[1] + 3 * t * t * (1 - t) * c2[1] + t ** 3 * y1 for t in ts]
    ov_scatter(x=ex, y=ey, mode="lines", line=EDGE_LINE)
ov_scatter(x=[v[0] for v in E_NODES.values()], y=[v[1] for v in E_NODES.values()], mode="markers",
           marker=dict(size=54, color=[v[4] for v in E_NODES.values()], line=dict(width=0)))
for name, v in E_NODES.items():
    text(v[2], v[3], name, 29.7, color="#333")

# ---- panel letters ----
text(26, 52, "a", 72)
text(26, 2036, "b", 72)
text(1540, 45, "c", 72)
text(1540, 1212, "d", 72)
text(1540, 2437, "e", 72)

layout["annotations"] = annos
layout["shapes"] = shapes
fig.update_layout(**layout)
fig.write_html("out.html", config=dict(displayModeBar=False),
               post_script="document.body.style.margin='0';document.body.style.background='white';")
